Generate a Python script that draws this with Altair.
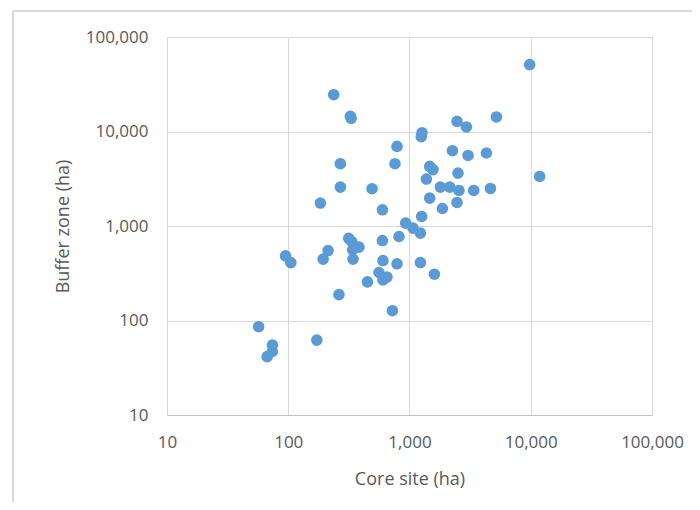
import altair as alt
import pandas as pd

core_site = [9800, 237, 325, 330, 789, 269, 759, 269, 491, 184, 598, 930, 1069, 1269, 1250,
             2465, 2946, 5210, 2259, 3040, 4310, 1468, 1562, 2512, 1378, 11850, 1798, 2146,
             2560, 3385, 4650, 1468, 2465, 1868, 1260, 1230, 1230, 1604, 315, 335, 383, 342,
             340, 598, 819, 213, 194, 95, 105, 604, 789, 560, 604, 652, 450, 262, 723, 57,
             172, 74, 74, 67]
buffer_zone = [51000, 24500, 14500, 13800, 6950, 4560, 4560, 2580, 2480, 1750, 1485, 1074, 950,
               9710, 8810, 12800, 11170, 14250, 6260, 5580, 5920, 4270, 3940, 3630, 3140, 3345,
               2580, 2580, 2377, 2377, 2495, 1975, 1775, 1532, 1262, 841, 410, 309, 740, 680,
               598, 446, 560, 702, 774, 550, 446, 483, 410, 431, 398, 322, 269, 288, 256, 188,
               127, 86, 62, 55, 47, 41.5]
tick_values = [10, 100, 1000, 10000, 100000]

df = pd.DataFrame({"core": core_site, "buffer": buffer_zone})

font = "Open Sans"
label_color = "#595959"
grid_color = "#d9d9d9"

points = alt.Chart(df).mark_circle(size=135, opacity=1, color="#5B9BD5").encode(
    x=alt.X("core:Q", title="Core site (ha)",
            scale=alt.Scale(type="log", domain=[10, 100000], nice=False),
            axis=alt.Axis(values=tick_values, format=",.0f", grid=True, gridColor=grid_color,
                          domain=True, domainColor="#bfbfbf", ticks=False,
                          labelFont=font, labelFontSize=17, labelColor=label_color,
                          labelPadding=19, labelFlush=False, labelOverlap=False,
                          titleFont=font, titleFontSize=18,
                          titleFontWeight="normal", titleColor=label_color,
                          titlePadding=20)),
    y=alt.Y("buffer:Q", title="Buffer zone (ha)",
            scale=alt.Scale(type="log", domain=[10, 100000], nice=False),
            axis=alt.Axis(values=tick_values, format=",.0f", grid=True, gridColor=grid_color,
                          domain=True, domainColor=grid_color, ticks=False,
                          labelFont=font, labelFontSize=17, labelColor=label_color,
                          labelPadding=19, labelFlush=False, labelOverlap=False,
                          titleFont=font, titleFontSize=18,
                          titleFontWeight="normal", titleColor=label_color,
                          titlePadding=13)),
)

frame_src = pd.DataFrame({"k": [0]})
top_border = alt.Chart(frame_src).mark_rule(color=grid_color, strokeWidth=2).encode(
    x=alt.value(-154), x2=alt.value(560), y=alt.value(-26))
left_border = alt.Chart(frame_src).mark_rule(color=grid_color, strokeWidth=2).encode(
    x=alt.value(-154), y=alt.value(-26), y2=alt.value(520))

chart = alt.layer(top_border, left_border, points).properties(
    width=485, height=378,
    autosize=alt.AutoSizeParams(type="none"),
    padding={"left": 159, "top": 29, "right": 40, "bottom": 87},
).configure_view(stroke=grid_color)

chart.save("out.html", embed_options={"renderer": "svg", "actions": False})
